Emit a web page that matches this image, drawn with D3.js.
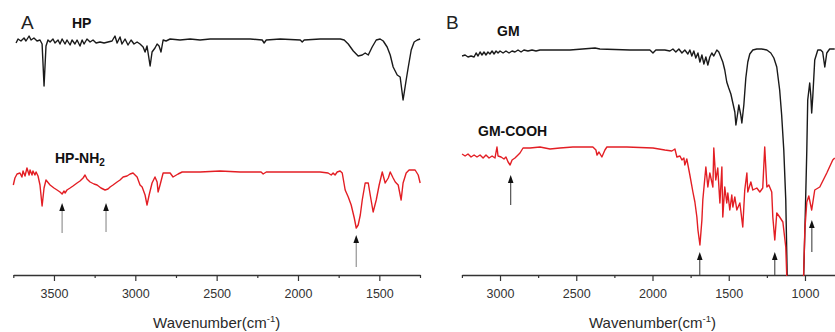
<!DOCTYPE html>
<html><head><meta charset="utf-8">
<script src="https://cdn.jsdelivr.net/npm/d3@7/dist/d3.min.js"></script>
<style>
html,body{margin:0;padding:0;background:#fff;}
svg{display:block;font-family:"Liberation Sans",Arial,sans-serif;}
</style></head>
<body>
<svg id="chart" width="835" height="332"></svg>
<script>
// ---- data: [wavenumber cm-1, transmittance (arb. units, offset)] ----
const hpSpectrum = [[3733,232],[3721,236],[3703,234],[3684,237],[3672,234],[3653,239],[3641,235],[3623,237],[3604,234],[3586,235],[3573,231],[3561,189],[3549,229],[3537,235],[3524,233],[3506,236],[3494,232],[3475,235],[3463,231],[3450,236],[3432,231],[3420,235],[3401,230],[3389,235],[3371,231],[3358,235],[3340,229],[3327,235],[3315,231],[3297,236],[3278,233],[3260,235],[3241,232],[3217,233],[3192,232],[3168,233],[3143,234],[3125,239],[3112,232],[3094,238],[3082,231],[3063,236],[3045,230],[3026,235],[3008,231],[2989,233],[2971,231],[2952,228],[2940,223],[2928,229],[2909,209],[2897,223],[2879,227],[2866,231],[2854,229],[2842,223],[2829,235],[2811,234],[2786,236],[2725,235],[2663,236],[2602,235],[2540,236],[2417,236],[2294,236],[2220,235],[2208,232],[2195,235],[2109,236],[1986,235],[1974,233],[1962,235],[1864,236],[1740,236],[1716,235],[1691,231],[1660,224],[1630,219],[1605,220],[1587,222],[1568,220],[1544,228],[1519,235],[1495,236],[1476,234],[1452,228],[1433,220],[1415,208],[1390,200],[1372,198],[1354,175],[1335,195],[1323,207],[1304,225],[1286,233],[1267,235],[1249,236]];

const hpNH2Spectrum = [[3750,90],[3740,97],[3727,101],[3709,102],[3697,98],[3690,104],[3678,99],[3666,107],[3653,100],[3647,105],[3635,100],[3629,104],[3617,100],[3610,103],[3598,99],[3586,90],[3573,69],[3561,87],[3549,95],[3524,90],[3500,87],[3481,85],[3463,83],[3450,81],[3438,84],[3432,82],[3420,85],[3401,87],[3383,89],[3358,92],[3340,94],[3321,97],[3309,100],[3297,96],[3278,93],[3254,91],[3235,90],[3211,87],[3186,85],[3168,86],[3155,88],[3137,90],[3112,93],[3094,95],[3075,98],[3051,99],[3032,101],[3014,102],[2989,98],[2971,90],[2958,88],[2940,80],[2928,70],[2915,80],[2897,92],[2879,98],[2866,93],[2860,83],[2848,90],[2829,102],[2786,102],[2768,98],[2737,101],[2712,103],[2602,103],[2479,104],[2356,103],[2227,103],[2214,101],[2195,103],[2048,103],[1864,103],[1815,102],[1796,100],[1784,102],[1772,100],[1759,103],[1741,104],[1728,102],[1710,85],[1691,78],[1673,70],[1654,57],[1642,47],[1630,50],[1617,60],[1605,75],[1587,92],[1568,92],[1556,80],[1538,63],[1519,75],[1501,90],[1482,103],[1464,92],[1445,97],[1433,103],[1415,97],[1402,93],[1384,90],[1366,75],[1354,92],[1335,102],[1317,105],[1280,105],[1261,100],[1249,92]];

const gmSpectrum = [[3249,219],[3229,220],[3210,218],[3190,219],[3170,218],[3157,222],[3144,219],[3131,223],[3118,220],[3105,223],[3092,220],[3079,223],[3066,221],[3052,224],[3039,221],[3026,224],[3013,222],[3000,224],[2980,222],[2961,224],[2941,222],[2921,224],[2902,223],[2882,225],[2862,223],[2843,225],[2817,224],[2790,225],[2764,224],[2738,225],[2685,225],[2541,225],[2377,227],[2345,226],[2148,225],[2017,225],[1997,222],[1978,225],[1919,225],[1886,224],[1866,226],[1847,223],[1827,226],[1807,222],[1788,225],[1768,221],[1755,225],[1742,219],[1729,224],[1716,217],[1702,222],[1689,213],[1676,220],[1663,211],[1650,218],[1637,210],[1624,218],[1611,222],[1598,219],[1578,225],[1565,223],[1552,218],[1539,213],[1526,205],[1513,193],[1500,187],[1486,181],[1473,172],[1460,163],[1453,150],[1440,163],[1434,170],[1421,160],[1414,152],[1401,170],[1388,197],[1375,213],[1362,221],[1342,225],[1316,226],[1283,226],[1250,225],[1224,222],[1204,217],[1185,208],[1166,185],[1153,160],[1139,125],[1126,75],[1113,-30],[1014,-30],[1001,42],[988,125],[982,175],[969,192],[962,180],[956,162],[949,178],[936,215],[916,225],[897,225],[884,223],[870,208],[857,222],[838,226],[805,226]];

const gmCOOHSpectrum = [[3249,121],[3229,119],[3210,121],[3190,118],[3170,120],[3151,118],[3131,120],[3111,117],[3092,120],[3072,117],[3052,119],[3033,117],[3020,128],[3013,119],[2993,118],[2974,116],[2961,118],[2947,113],[2934,110],[2921,115],[2902,117],[2882,120],[2869,122],[2849,127],[2803,127],[2738,128],[2672,126],[2607,127],[2522,128],[2391,128],[2371,125],[2364,120],[2351,123],[2332,118],[2312,125],[2299,128],[2168,128],[1997,127],[1919,125],[1873,124],[1853,126],[1840,118],[1820,119],[1807,115],[1794,117],[1788,110],[1775,116],[1755,100],[1735,83],[1722,73],[1709,58],[1702,45],[1689,30],[1676,55],[1670,75],[1650,108],[1637,88],[1624,102],[1604,88],[1598,127],[1585,95],[1572,107],[1558,72],[1545,108],[1539,58],[1526,88],[1513,72],[1506,82],[1493,65],[1480,80],[1473,68],[1460,78],[1447,65],[1427,72],[1408,48],[1395,85],[1381,102],[1375,83],[1355,93],[1342,85],[1316,87],[1296,83],[1277,87],[1264,128],[1250,88],[1237,90],[1218,83],[1211,58],[1198,35],[1185,62],[1166,58],[1145,53],[1126,28],[1113,-30],[1014,-30],[1001,45],[988,73],[975,79],[956,65],[936,85],[903,88],[857,102],[818,115],[805,117]];

// arrows: [wavenumber, tip value, tail value]
const arrowsA = [[3450,72,42],[3180,72,43],[1642,40,8]];
const arrowsB = [[2930,100,70],[1690,23,0],[1198,23,0],[955,55,23]];

const ticksA = [3500,3000,2500,2000,1500];
const minorA = [3750,3250,2750,2250,1750,1250];
const ticksB = [3000,2500,2000,1500,1000];
const minorB = [3250,2750,2250,1750,1250,750];

// ---- layout ----
const svg = d3.select("#chart");
const axisY = 275;
const y = d3.scaleLinear().domain([0,260]).range([axisY,15]);
const xA = d3.scaleLinear().domain([3750,1250]).range([13.3,420]);
const xB = d3.scaleLinear().domain([3250,750]).range([461.9,843.1]);

const defs = svg.append("defs");
defs.append("clipPath").attr("id","clipA").append("rect").attr("x",0).attr("y",0).attr("width",421).attr("height",axisY+1);
defs.append("clipPath").attr("id","clipB").append("rect").attr("x",455).attr("y",0).attr("width",380).attr("height",axisY+1);

function drawPanel(x, clipId, series, arrows, major, minor, letter, letterX, labels, stemColor){
  const g = svg.append("g");
  const minorAxis = d3.axisBottom(x).tickValues(minor).tickSize(3).tickSizeOuter(0).tickFormat("");
  const gm = g.append("g").attr("transform",`translate(0,${axisY})`).call(minorAxis);
  gm.select(".domain").remove();
  gm.selectAll(".tick line").attr("stroke","#333").attr("stroke-width",1.2);
  const majorAxis = d3.axisBottom(x).tickValues(major).tickSize(6).tickSizeOuter(0).tickPadding(8).tickFormat(d3.format("d"));
  const ga = g.append("g").attr("transform",`translate(0,${axisY})`).call(majorAxis);
  ga.select(".domain").attr("stroke","#333").attr("stroke-width",1.6);
  ga.selectAll(".tick line").attr("stroke","#333").attr("stroke-width",1.2);
  ga.selectAll(".tick text").attr("font-size",12.5).attr("fill","#333").attr("font-family","'Liberation Sans',Arial,sans-serif");

  const r = x.range();
  const t = g.append("text").attr("x",(r[0]+r[1])/2).attr("y",328).attr("text-anchor","middle")
    .attr("font-size",15).attr("fill","#2a2a2a");
  t.append("tspan").text("Wavenumber(cm");
  t.append("tspan").attr("font-size",9.5).attr("dy",-6).text("-1");
  t.append("tspan").attr("dy",6).text(")");

  const line = d3.line().x(d=>x(d[0])).y(d=>y(d[1]));
  const sg = g.append("g").attr("clip-path",`url(#${clipId})`);
  series.forEach(s=>{
    sg.append("path").datum(s.data).attr("d",line).attr("fill","none")
      .attr("stroke",s.color).attr("stroke-width",1.4).attr("stroke-linejoin","round");
  });

  arrows.forEach(a=>{
    const ax = x(a[0]), yt = y(a[1]), yb = y(a[2]);
    g.append("line").attr("x1",ax).attr("x2",ax).attr("y1",yt+6).attr("y2",yb)
      .attr("stroke",stemColor).attr("stroke-width",1.1);
    g.append("path").attr("d",`M${ax},${yt} L${ax-2.8},${yt+8} L${ax+2.8},${yt+8} Z`).attr("fill","#111");
  });

  g.append("text").attr("x",letterX).attr("y",29).attr("font-size",19).attr("fill","#222").text(letter);
  labels.forEach(l=>{
    const tx = g.append("text").attr("x",l.x).attr("y",l.y).attr("font-size",14).attr("font-weight","bold").attr("fill","#111");
    tx.append("tspan").text(l.text);
    if(l.sub){ tx.append("tspan").attr("font-size",10).attr("dy",3).text(l.sub); }
  });
}

drawPanel(xA,"clipA",
  [{data:hpSpectrum,color:"#1a1a1a"},{data:hpNH2Spectrum,color:"#e31e24"}],
  arrowsA, ticksA, minorA, "A", 21,
  [{text:"HP",x:72,y:28},{text:"HP-NH",sub:"2",x:55,y:163}], "#8a8a8a");

drawPanel(xB,"clipB",
  [{data:gmSpectrum,color:"#1a1a1a"},{data:gmCOOHSpectrum,color:"#e31e24"}],
  arrowsB, ticksB, minorB, "B", 446,
  [{text:"GM",x:497,y:36},{text:"GM-COOH",x:478,y:136}], "#444");
</script>
</body></html>
